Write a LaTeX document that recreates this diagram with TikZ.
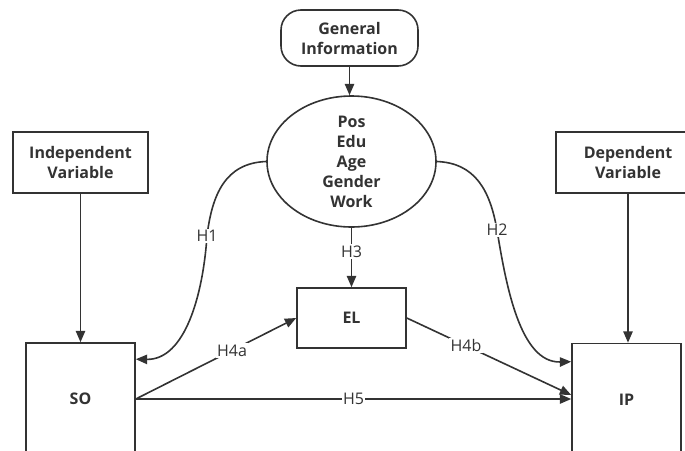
\documentclass[tikz,border=0pt]{standalone}
\usepackage{fontspec}
\setmainfont{Open Sans}
\usetikzlibrary{arrows.meta,shapes.geometric}
\definecolor{ink}{HTML}{333333}
\begin{document}
\begin{tikzpicture}[x=0.75pt,y=-0.75pt,
 box/.style={draw=ink,line width=1.2pt,fill=white,font=\bfseries\fontsize{12}{15}\selectfont,text=ink,align=center,inner sep=0pt},
 plain/.style={font=\bfseries\fontsize{12}{15}\selectfont,text=ink,align=center,inner sep=0pt},
 lbl/.style={fill=white,font=\fontsize{12}{15}\selectfont,text=ink,inner sep=1pt},
 conn/.style={draw=ink,line width=1.2pt,-{Triangle[length=8.5pt,width=7pt]}},
]
\useasboundingbox (0,0) rectangle (685,450);
\clip (0,0) rectangle (685,450);
\fill[white] (0,0) rectangle (685,450);

\node[box,minimum width=102.75pt,minimum height=42pt,rounded corners=15pt] (gi) at (349.5,38) {General\\Information};
\node[draw=ink,line width=1.2pt,ellipse,minimum width=126.75pt,minimum height=98.25pt,inner sep=0pt] (ell) at (351.5,161.5) {};
\node[plain] (elltxt) at (ell.center) {Pos\\Edu\\Age\\Gender\\Work};
\node[box,minimum width=101.25pt,minimum height=45.75pt] (iv) at (80.5,162.5) {Independent\\Variable};
\node[box,minimum width=108pt,minimum height=45.75pt] (dv) at (628,162.5) {Dependent\\Variable};
\node[box,minimum width=81.75pt,minimum height=45pt] (el) at (351.5,318) {EL};
\node[box,minimum width=81.75pt,minimum height=84pt] (so) at (80.5,399) {SO};
\node[box,minimum width=81.75pt,minimum height=84pt] (ip) at (626.5,399.5) {IP};

\coordinate (h1end) at ([yshift=-12.75pt]so.north east);
\coordinate (h2end) at ([yshift=-14.25pt]ip.north west);
\coordinate (h4bend) at ([yshift=3.4pt]ip.west);

\draw[conn] (gi.south) -- (gi.south |- ell.north);
\draw[conn] (iv) -- (so);
\draw[conn] (dv.south) -- (dv.south |- ip.north);
\draw[conn] (ell) -- node[lbl,pos=0.4]{H3} (el);
\draw[conn] (so.east) -- node[lbl,pos=0.6]{H4a} (el.west);
\draw[conn] (el.east) -- node[lbl,pos=0.36]{H4b} (h4bend);
\draw[conn] (so.east) -- node[lbl]{H5} (so.east -| ip.west);
\draw[conn] (ell.west) .. controls (225,163) and (212,195) .. (207,236) node[lbl]{H1} .. controls (203,295) and (185,360) .. (h1end);
\draw[conn] (ell.east) .. controls (475,163) and (490,190) .. (497,230) node[lbl]{H2} .. controls (506,285) and (520,363) .. (h2end);
\end{tikzpicture}
\end{document}
